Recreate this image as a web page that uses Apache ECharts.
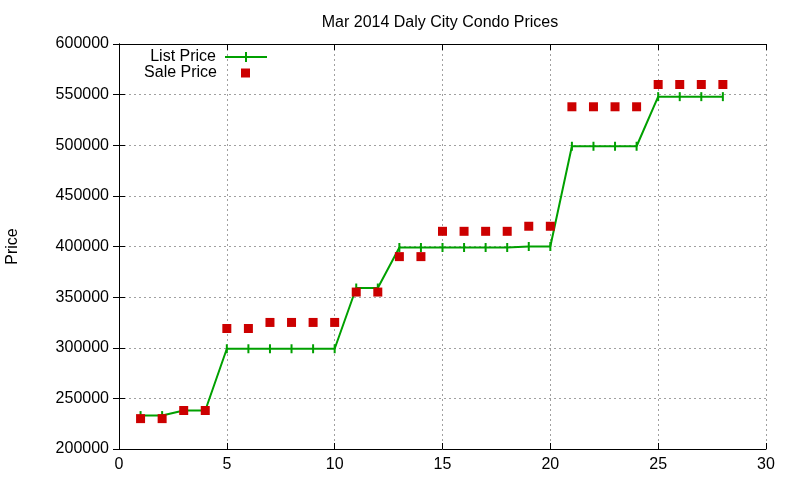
<!DOCTYPE html>
<html><head><meta charset="utf-8">
<script src="https://cdn.jsdelivr.net/npm/echarts@6/dist/echarts.min.js"></script>
<style>html,body{margin:0;padding:0;background:#fff}#c{width:800px;height:480px}</style>
</head><body><div id="c"></div>
<script>
const xValues = [1,2,3,4,5,6,7,8,9,10,11,12,13,14,15,16,17,18,19,20,21,22,23,24,25,26,27,28];
const listPrice = [233000,233000,238000,238000,299000,299000,299000,299000,299000,299000,359000,359000,399000,399000,399000,399000,399000,399000,400000,400000,499000,499000,499000,499000,548000,548000,548000,548000];
const salePrice = [230000,230000,238000,238000,319000,319000,325000,325000,325000,325000,355000,355000,390000,390000,415000,415000,415000,415000,420000,420000,538000,538000,538000,538000,560000,560000,560000,560000];
const seriesNames = ['List Price','Sale Price'];
const titleText = 'Mar 2014 Daly City Condo Prices';
const yName = 'Price';

const chart = echarts.init(document.getElementById('c'), null, {renderer:'canvas'});
const font = 'Liberation Sans, Arial, sans-serif';
const plusLine = 'path://M0,4H20V0H22V4H42V6H22V10H20V6H0Z';
chart.setOption({
  animation:false,
  backgroundColor:'#fff',
  title:{text:titleText, left:435, top:10, textAlign:'center',
    textStyle:{fontFamily:font, fontSize:16, fontWeight:'normal', color:'#000'}},
  legend:[
    {orient:'vertical', right:533, top:49, padding:0, align:'right', itemWidth:42, itemHeight:10,
      itemStyle:{borderWidth:0},
      textStyle:{fontFamily:font, fontSize:16, color:'#000', padding:[0,4,0,0]},
      data:[{name:seriesNames[0], icon:plusLine}]},
    {orient:'vertical', right:550, top:65, padding:0, align:'right', itemWidth:9, itemHeight:9,
      itemStyle:{borderWidth:0},
      textStyle:{fontFamily:font, fontSize:16, color:'#000', padding:[0,19,0,0]},
      data:[{name:seriesNames[1], icon:'rect'}]}
  ],
  grid:{left:119, right:34, top:44, bottom:31, outerBoundsMode:'none', containLabel:false},
  xAxis:[{type:'value', min:0, max:30, interval:5,
    axisLine:{show:true, onZero:false, lineStyle:{color:'#000', width:1}},
    axisTick:{show:true, inside:true, length:6, lineStyle:{color:'#000'}},
    axisLabel:{color:'#000', fontFamily:font, fontSize:16, margin:8},
    splitLine:{show:true, lineStyle:{color:'#a0a0a0', type:[2,3], width:1}}},
    {type:'value', min:0, max:30, interval:5, position:'top',
    axisLine:{show:true, lineStyle:{color:'#000'}},
    axisTick:{show:true, inside:true, length:6, lineStyle:{color:'#000'}},
    axisLabel:{show:false}, splitLine:{show:false}}],
  yAxis:[{type:'value', min:200000, max:600000, interval:50000, name:yName,
    nameLocation:'middle', nameGap:98, nameRotate:90,
    nameTextStyle:{fontFamily:font, fontSize:16, color:'#000'},
    axisLine:{show:true, onZero:false, lineStyle:{color:'#000', width:1}},
    axisTick:{show:true, inside:true, length:6, lineStyle:{color:'#000'}},
    axisLabel:{color:'#000', fontFamily:font, fontSize:16, margin:10, formatter:v=>String(v)},
    splitLine:{show:true, lineStyle:{color:'#a0a0a0', type:[2,3], width:1}}},
    {type:'value', min:200000, max:600000, interval:50000, position:'right',
    axisLine:{show:true, lineStyle:{color:'#000'}},
    axisTick:{show:true, inside:true, length:6, lineStyle:{color:'#000'}},
    axisLabel:{show:false}, splitLine:{show:false}}],
  series:[
    {name:seriesNames[0], type:'line', data:xValues.map((x,i)=>[x,listPrice[i]]),
      symbol:'rect', symbolSize:[2,9], showSymbol:true,
      lineStyle:{color:'#00a000', width:2}, itemStyle:{color:'#00a000', opacity:1}, z:2},
    {name:seriesNames[1], type:'scatter', data:xValues.map((x,i)=>[x,salePrice[i]]),
      symbol:'rect', symbolSize:9, itemStyle:{color:'#cc0000', opacity:1}, z:3}
  ]
});
</script></body></html>
